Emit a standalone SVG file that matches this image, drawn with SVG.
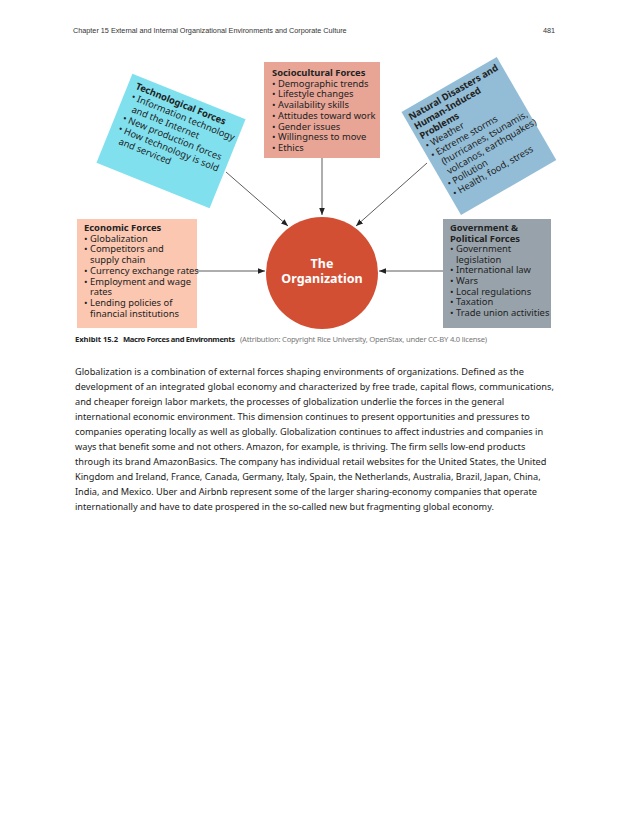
<svg xmlns="http://www.w3.org/2000/svg" width="630" height="815" viewBox="0 0 630 815">
<defs>
<style>
.hdr{font-family:"Liberation Sans",Arial,sans-serif;font-size:7.25px;fill:#333}
.t{font-family:"Noto Sans","Open Sans",sans-serif;font-size:9.4px;fill:#222}
.b{font-weight:bold}
.body{font-family:"Noto Sans","Open Sans",sans-serif;font-size:9.2px;fill:#222}
.cap{font-family:"Noto Sans","Open Sans",sans-serif;font-size:7.6px;fill:#222}
.capg{font-family:"Noto Sans","Open Sans",sans-serif;font-size:7.6px;fill:#777}
.org{font-family:"Noto Sans","Open Sans",sans-serif;font-size:12.5px;font-weight:bold;fill:#fff}
.ln{stroke:#333;stroke-width:0.8;fill:none;marker-end:url(#ah)}
</style>
<marker id="ah" viewBox="0 0 10 10" refX="10" refY="5" markerWidth="7" markerHeight="7" markerUnits="userSpaceOnUse" orient="auto">
<path d="M0,1 L10,5 L0,9 Z" fill="#222"/>
</marker>
</defs>
<rect width="630" height="815" fill="#fff"/>
<text class="hdr" x="73" y="33">Chapter 15 External and Internal Organizational Environments and Corporate Culture</text>
<text class="hdr" x="543" y="33">481</text>

<g id="connectors">
<line class="ln" x1="226" y1="172" x2="288" y2="226"/>
<line class="ln" x1="322" y1="158" x2="322" y2="215"/>
<line class="ln" x1="427" y1="163" x2="356" y2="226"/>
<line class="ln" x1="197" y1="271" x2="265" y2="271"/>
<line class="ln" x1="443" y1="271" x2="379" y2="271"/>
</g>

<g id="technological" transform="translate(171,141) rotate(22)">
<rect x="-61" y="-48" width="122" height="96" fill="#80e0ee"/>
<text class="t b" x="-53" y="-35">Technological Forces</text>
<text class="t" x="-53" y="-23.5">• Information technology</text>
<text class="t" x="-48" y="-12">and the Internet</text>
<text class="t" x="-53" y="-0.5">• New production forces</text>
<text class="t" x="-53" y="11">• How technology is sold</text>
<text class="t" x="-48" y="22.5">and serviced</text>
</g>

<g id="sociocultural">
<rect x="264" y="62" width="116" height="96" fill="#e8a596"/>
<text class="t b" x="272" y="76">Sociocultural Forces</text>
<text class="t" x="272" y="86.7">• Demographic trends</text>
<text class="t" x="272" y="97.4">• Lifestyle changes</text>
<text class="t" x="272" y="108.1">• Availability skills</text>
<text class="t" x="272" y="118.8">• Attitudes toward work</text>
<text class="t" x="272" y="129.5">• Gender issues</text>
<text class="t" x="272" y="140.2">• Willingness to move</text>
<text class="t" x="272" y="150.9">• Ethics</text>
</g>

<g id="natural" transform="translate(480,136) rotate(-30)">
<rect x="-56" y="-60" width="110" height="119" fill="#93bdd6"/>
<text class="t b" x="-52" y="-48">Natural Disasters and</text>
<text class="t b" x="-52" y="-37">Human-Induced</text>
<text class="t b" x="-52" y="-26">Problems</text>
<text class="t" x="-52" y="-15">• Weather</text>
<text class="t" x="-52" y="-4">• Extreme storms</text>
<text class="t" x="-46" y="7">(hurricanes, tsunamis,</text>
<text class="t" x="-46" y="18">volcanos, earthquakes)</text>
<text class="t" x="-52" y="29">• Pollution</text>
<text class="t" x="-52" y="40">• Health, food, stress</text>
</g>

<g id="economic">
<rect x="77" y="219" width="120" height="109" fill="#fcc7b1"/>
<text class="t b" x="84" y="231">Economic Forces</text>
<text class="t" x="84" y="241.7">• Globalization</text>
<text class="t" x="84" y="252.4">• Competitors and</text>
<text class="t" x="90" y="263.1">supply chain</text>
<text class="t" x="84" y="273.8">• Currency exchange rates</text>
<text class="t" x="84" y="284.5">• Employment and wage</text>
<text class="t" x="90" y="295.2">rates</text>
<text class="t" x="84" y="305.9">• Lending policies of</text>
<text class="t" x="90" y="316.6">financial institutions</text>
</g>

<g id="government">
<rect x="443" y="219" width="108" height="109" fill="#98a2ab"/>
<text class="t b" x="450" y="231">Government &amp;</text>
<text class="t b" x="450" y="241.6">Political Forces</text>
<text class="t" x="450" y="252.2">• Government</text>
<text class="t" x="456" y="262.8">legislation</text>
<text class="t" x="450" y="273.4">• International law</text>
<text class="t" x="450" y="284">• Wars</text>
<text class="t" x="450" y="294.6">• Local regulations</text>
<text class="t" x="450" y="305.2">• Taxation</text>
<text class="t" x="450" y="315.8">• Trade union activities</text>
</g>

<g id="organization">
<circle cx="322" cy="273" r="56" fill="#d34f34"/>
<text class="org" x="322" y="268" text-anchor="middle">The</text>
<text class="org" x="322" y="283" text-anchor="middle">Organization</text>
</g>

<text class="cap b" x="75" y="342" textLength="43">Exhibit 15.2</text>
<text class="cap b" x="123" y="342" textLength="112">Macro Forces and Environments</text>
<text class="capg" x="240" y="342" textLength="247">(Attribution: Copyright Rice University, OpenStax, under CC-BY 4.0 license)</text>

<g class="body">
<text x="75" y="375" textLength="449">Globalization is a combination of external forces shaping environments of organizations. Defined as the</text>
<text x="75" y="390" textLength="479">development of an integrated global economy and characterized by free trade, capital flows, communications,</text>
<text x="75" y="405">and cheaper foreign labor markets, the processes of globalization underlie the forces in the general</text>
<text x="75" y="420">international economic environment. This dimension continues to present opportunities and pressures to</text>
<text x="75" y="435">companies operating locally as well as globally. Globalization continues to affect industries and companies in</text>
<text x="75" y="449.5">ways that benefit some and not others. Amazon, for example, is thriving. The firm sells low-end products</text>
<text x="75" y="464.5">through its brand AmazonBasics. The company has individual retail websites for the United States, the United</text>
<text x="75" y="479.5">Kingdom and Ireland, France, Canada, Germany, Italy, Spain, the Netherlands, Australia, Brazil, Japan, China,</text>
<text x="75" y="494.5">India, and Mexico. Uber and Airbnb represent some of the larger sharing-economy companies that operate</text>
<text x="75" y="509.5">internationally and have to date prospered in the so-called new but fragmenting global economy.</text>
</g>
</svg>
